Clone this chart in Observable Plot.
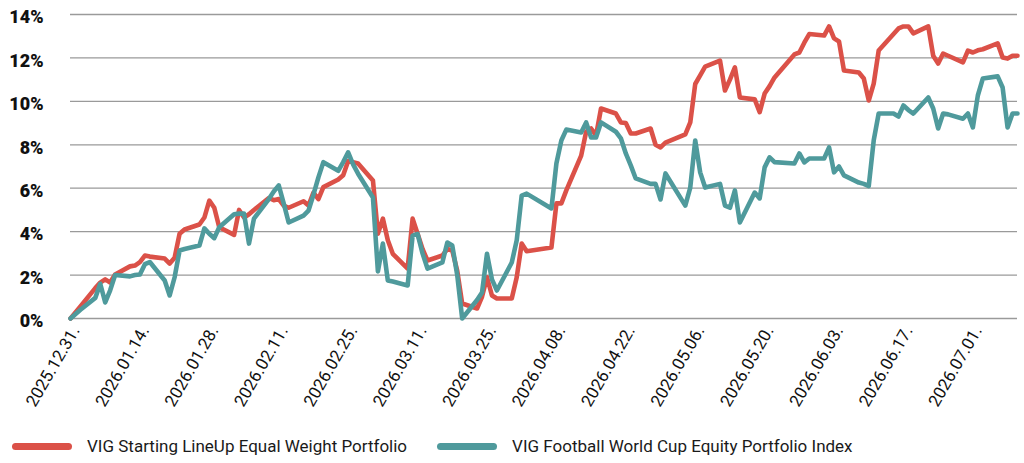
<!DOCTYPE html>
<html>
<head>
<meta charset="utf-8">
<script src="https://cdn.jsdelivr.net/npm/d3@7"></script>
<script src="https://cdn.jsdelivr.net/npm/@observablehq/plot@0.6"></script>
<style>
  body { margin: 0; background: #fff; font-family: Roboto, "Noto Sans", sans-serif; }
  #legend { display: flex; align-items: center; height: 30px; margin-top: 1px; padding-left: 12px; font-size: 17px; color: #1a1a1a; }
  .item { display: flex; align-items: center; margin-right: 30px; }
  .swatch { width: 60px; height: 7px; border-radius: 4px; margin-right: 15px; }
</style>
</head>
<body>
<div id="chart"></div>
<div id="legend"></div>
<script>
// Trading days and cumulative performance (%) of the two portfolios
const dates = [
  "2025-12-31","2026-01-02","2026-01-05","2026-01-06","2026-01-07","2026-01-08","2026-01-09",
  "2026-01-12","2026-01-13","2026-01-14","2026-01-15","2026-01-16","2026-01-19","2026-01-20",
  "2026-01-21","2026-01-22","2026-01-23","2026-01-26","2026-01-27","2026-01-28","2026-01-29",
  "2026-01-30","2026-02-02","2026-02-03","2026-02-04","2026-02-05","2026-02-06","2026-02-09",
  "2026-02-10","2026-02-11","2026-02-12","2026-02-13","2026-02-16","2026-02-17","2026-02-18",
  "2026-02-19","2026-02-20","2026-02-23","2026-02-24","2026-02-25","2026-02-26","2026-02-27",
  "2026-03-02","2026-03-03","2026-03-04","2026-03-05","2026-03-06","2026-03-09","2026-03-10",
  "2026-03-11","2026-03-12","2026-03-13","2026-03-16","2026-03-17","2026-03-18","2026-03-19",
  "2026-03-20","2026-03-23","2026-03-24","2026-03-25","2026-03-26","2026-03-27","2026-03-30",
  "2026-03-31","2026-04-01","2026-04-02","2026-04-07","2026-04-08","2026-04-09","2026-04-10",
  "2026-04-13","2026-04-14","2026-04-15","2026-04-16","2026-04-17","2026-04-20","2026-04-21",
  "2026-04-22","2026-04-23","2026-04-24","2026-04-27","2026-04-28","2026-04-29","2026-04-30",
  "2026-05-04","2026-05-05","2026-05-06","2026-05-07","2026-05-08","2026-05-11","2026-05-12",
  "2026-05-13","2026-05-14","2026-05-15","2026-05-18","2026-05-19","2026-05-20","2026-05-21",
  "2026-05-22","2026-05-26","2026-05-27","2026-05-28","2026-05-29","2026-06-01","2026-06-02",
  "2026-06-03","2026-06-04","2026-06-05","2026-06-08","2026-06-09","2026-06-10","2026-06-11",
  "2026-06-12","2026-06-15","2026-06-16","2026-06-17","2026-06-18","2026-06-19","2026-06-22",
  "2026-06-23","2026-06-24","2026-06-25","2026-06-26","2026-06-29","2026-06-30","2026-07-01",
  "2026-07-02","2026-07-03","2026-07-06","2026-07-07","2026-07-08","2026-07-09","2026-07-10"
];

const lineupEqualWeight = [
  0, 0.55, 1.4, 1.65, 1.8, 1.66, 2.03,
  2.4, 2.44, 2.6, 2.9, 2.85, 2.76, 2.53,
  2.8, 3.9, 4.1, 4.33, 4.65, 5.43, 5.1,
  4.2, 3.85, 5.0, 4.65, 4.8, 5.0, 5.55,
  5.45, 5.5, 5.2, 5.1, 5.4, 5.2, 5.8,
  5.5, 6.05, 6.4, 6.6, 7.25, 7.2, 7.14,
  6.36, 3.9, 4.6, 3.6, 2.98, 2.3, 4.6,
  3.9, 3.2, 2.67, 2.9, 3.2, 3.13, 2.2,
  0.69, 0.46, 1.0, 1.9, 1.06, 0.92, 0.92,
  1.9, 3.45, 3.1, 3.27, 5.3, 5.3, 5.9,
  7.5, 8.6, 8.75, 8.43, 9.67, 9.44, 9.03,
  9.0, 8.52, 8.52, 8.75, 8.0, 7.88, 8.1,
  8.48, 9.03, 10.8, 11.2, 11.6, 11.88, 10.5,
  11.0, 11.56, 10.18, 10.09, 9.5, 10.36, 10.7,
  11.1, 12.16, 12.25, 12.7, 13.1, 13.03, 13.45,
  12.9, 12.76, 11.42, 11.33, 11.05, 10.04, 10.82,
  12.34, 13.1, 13.36, 13.45, 13.45, 13.13, 13.45,
  12.1, 11.74, 12.2, 12.1, 11.8, 12.34, 12.25,
  12.35, 12.4, 12.67, 12.02, 11.97, 12.1, 12.1
];

const worldCupIndex = [
  0, 0.4, 0.95, 1.6, 0.74, 1.3, 2.0,
  1.94, 2.0, 2.03, 2.5, 2.6, 1.75, 1.06,
  1.9, 3.13, 3.2, 3.36, 4.15, 3.9, 3.7,
  4.2, 4.8, 4.83, 4.83, 3.45, 4.6, 5.5,
  5.85, 6.13, 5.3, 4.42, 4.74, 4.97, 5.7,
  6.5, 7.2, 6.8, 7.2, 7.65, 7.1, 6.67,
  5.57, 2.17, 3.45, 1.75, 1.7, 1.52, 3.82,
  3.9, 3.0, 2.3, 2.58, 3.5, 3.36, 2.0,
  0.0, 0.85, 1.2, 2.98, 1.8, 1.29, 2.58,
  3.6, 5.66, 5.75, 5.07, 7.14, 8.2, 8.7,
  8.57, 9.03, 8.34, 8.34, 9.03, 8.6, 8.3,
  7.6, 7.05, 6.45, 6.2, 6.2, 5.48, 6.68,
  5.2, 6.03, 8.2, 6.73, 6.03, 6.2, 5.2,
  5.1, 5.9, 4.42, 5.8, 5.53, 6.96, 7.42,
  7.2, 7.14, 7.6, 7.19, 7.37, 7.37, 7.88,
  6.73, 7.0, 6.59, 6.26, 6.2, 6.1, 8.2,
  9.44, 9.44, 9.3, 9.81, 9.6, 9.44, 10.18,
  9.67, 8.75, 9.44, 9.4, 9.2, 9.44, 8.8,
  10.27, 11.05, 11.15, 10.64, 8.8, 9.44, 9.44
];

const seriesNames = [
  "VIG Starting LineUp Equal Weight Portfolio",
  "VIG Football World Cup Equity Portfolio Index"
];
const seriesColors = ["#db5148", "#4f9a9c"];

const xTickDates = [
  "2025-12-31","2026-01-14","2026-01-28","2026-02-11","2026-02-25","2026-03-11","2026-03-25",
  "2026-04-08","2026-04-22","2026-05-06","2026-05-20","2026-06-03","2026-06-17","2026-07-01"
];
const yTicks = [0, 2, 4, 6, 8, 10, 12, 14];

const parse = d3.utcParse("%Y-%m-%d");
const rows = [];
[lineupEqualWeight, worldCupIndex].forEach((values, i) => {
  values.forEach((v, j) => rows.push({date: parse(dates[j]), value: v, series: seriesNames[i]}));
});

const chart = Plot.plot({
  width: 1024,
  height: 430,
  marginTop: 14,
  marginLeft: 70,
  marginRight: 7,
  marginBottom: 112,
  style: {fontFamily: "Roboto, sans-serif", fontSize: "16px", color: "#111", background: "#fff"},
  x: {type: "utc", domain: [parse(dates[0]), parse(dates[dates.length - 1])], label: null},
  y: {domain: [0, 14], label: null},
  color: {domain: seriesNames, range: seriesColors},
  marks: [
    Plot.gridY(yTicks, {stroke: "#9a9a9a", strokeOpacity: 1, strokeWidth: 1.3}),
    Plot.axisY(yTicks, {
      tickSize: 0, tickPadding: 27, tickFormat: d => d + "%", label: null,
      fontWeight: 900, fontSize: 18, dy: 3
    }),
    Plot.axisX(xTickDates.map(parse), {
      tickSize: 0, tickPadding: 9, tickRotate: -60, label: null,
      tickFormat: d3.utcFormat("%Y.%m.%d."), fontSize: 17, dx: 5
    }),
    Plot.line(rows, {
      x: "date", y: "value", z: "series", stroke: "series",
      strokeWidth: 4.6, strokeLinejoin: "round", strokeLinecap: "round"
    })
  ]
});
document.getElementById("chart").appendChild(chart);

const legend = document.getElementById("legend");
seriesNames.forEach((name, i) => {
  const item = document.createElement("div");
  item.className = "item";
  const sw = document.createElement("div");
  sw.className = "swatch";
  sw.style.background = seriesColors[i];
  const label = document.createElement("span");
  label.textContent = name;
  item.append(sw, label);
  legend.appendChild(item);
});
</script>
</body>
</html>
